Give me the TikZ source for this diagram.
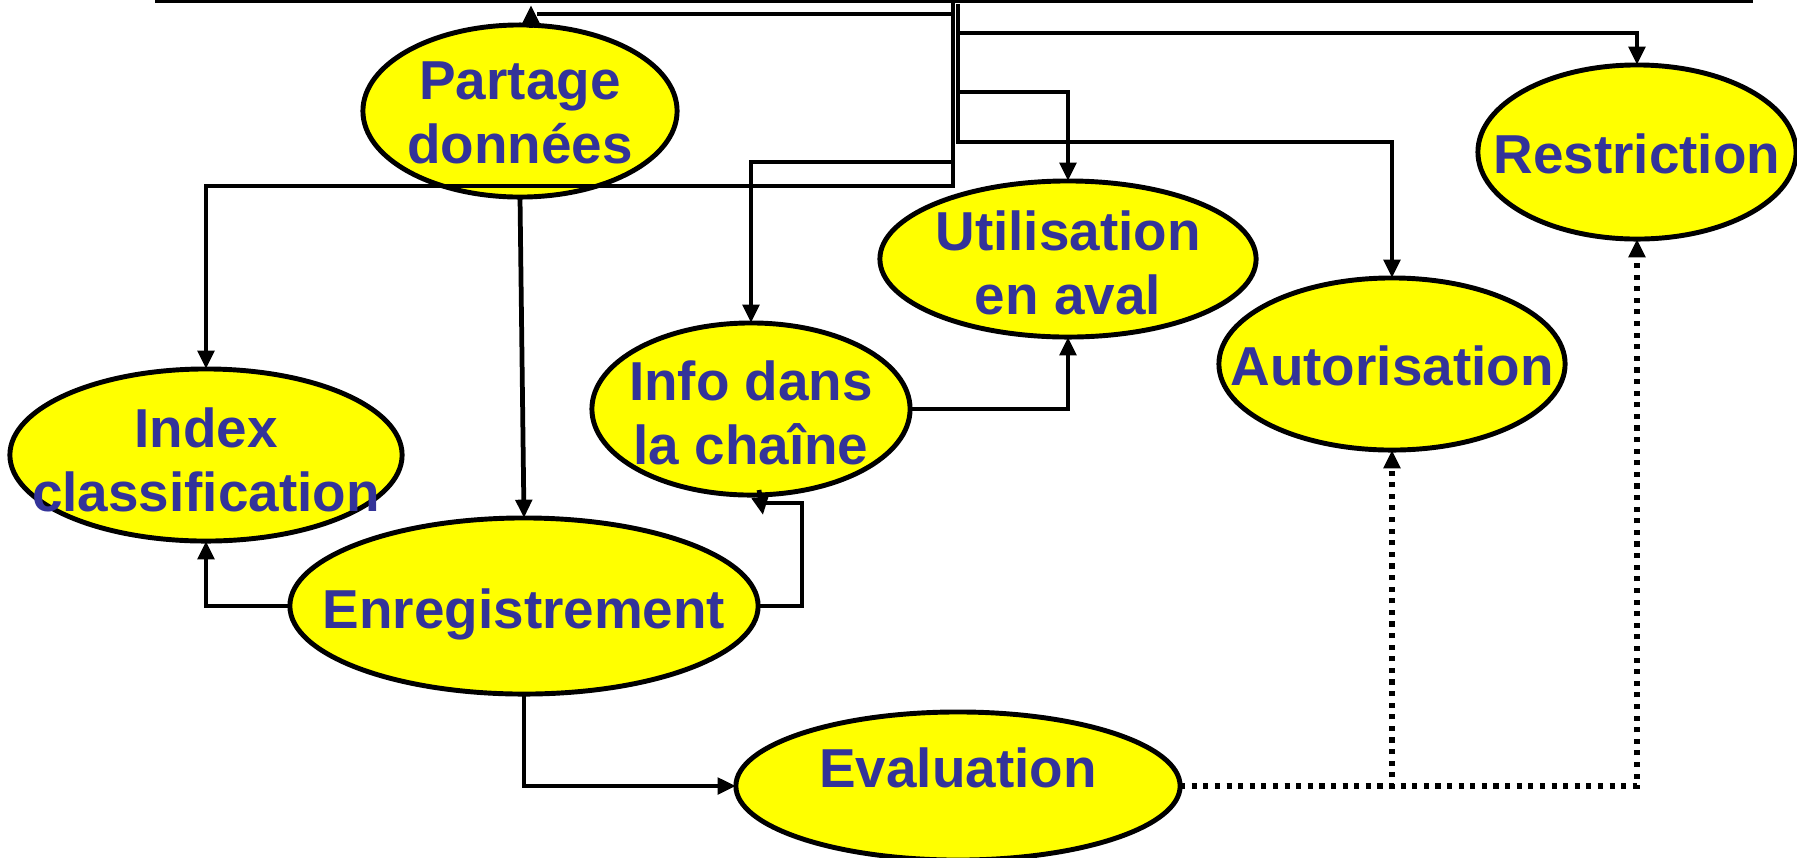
\documentclass[tikz,border=0pt]{standalone}
\usepackage{fontspec}
\setmainfont{Liberation Sans}
\usetikzlibrary{shapes.geometric, arrows.meta}
\definecolor{bubblefill}{HTML}{FFFF00}
\definecolor{labelblue}{HTML}{333399}
\begin{document}
\begin{tikzpicture}[x=0.01cm, y=-0.01cm,
  bubble/.style={ellipse, draw=black, line width=1.4pt, fill=bubblefill, inner sep=0pt, outer sep=0pt},
  caption/.style={text=labelblue, font=\bfseries\fontsize{15.6}{18}\selectfont, align=center, inner sep=0pt},
  link/.style={line width=1.35pt, draw=black},
  tip/.style={-{Triangle[length=5.2pt,width=4.6pt]}},
  dotlink/.style={line width=1.45pt, draw=black, dash pattern=on 1.45pt off 1.85pt},
]
\useasboundingbox (0,0) rectangle (1797,857);

% rule along the top edge
\coordinate (rule-l) at (155,1.6);
\coordinate (rule-r) at (1753,1.6);
\draw[line width=1pt] (rule-l) -- (rule-r);

% bubbles
\node[bubble, minimum width=3.14cm, minimum height=1.72cm] (pd) at (520,111) {};
\node[bubble, minimum width=3.18cm, minimum height=1.74cm] (rs) at (1637,152) {};
\node[bubble, minimum width=3.76cm, minimum height=1.56cm] (ut) at (1068,259) {};
\node[bubble, minimum width=3.46cm, minimum height=1.72cm] (au) at (1392,364) {};
\node[bubble, minimum width=3.18cm, minimum height=1.72cm] (ic) at (751,409) {};
\node[bubble, minimum width=3.92cm, minimum height=1.72cm] (ix) at (206,455) {};
\node[bubble, minimum width=4.68cm, minimum height=1.76cm] (en) at (524,606) {};
\node[bubble, minimum width=4.44cm, minimum height=1.48cm] (ev) at (958,786) {};

% captions
\node[caption] (pd-t) at (520,113) {Partage\\données};
\node[caption] (rs-t) at (1637,154) {Restriction};
\node[caption] (ut-t) at (1068,263) {Utilisation\\en aval};
\node[caption] (au-t) at (1392,366) {Autorisation};
\node[caption] (ic-t) at (751,413) {Info dans\\la chaîne};
\node[caption] (ix-t) at (206,460) {Index\\classification};
\node[caption] (en-t) at (524,614) {Enregistrement};
\node[caption] (ev-t) at (958,768) {Evaluation};

% distribution trunk hanging from the rule (two lanes)
\coordinate (trA) at (953,3);
\coordinate (trB) at (958,4);

\draw[link] (trA) |- (537,14);
\draw[link, tip] (531,28) -- (531,5);
\draw[link, tip] (trB) -- (958,33) -| (rs.north);
\draw[link, tip] (trB) -- (958,92) -| (ut.north);
\draw[link, tip] (trB) -- (958,142) -| (au.north);
\draw[link, tip] (trA) -- (953,162) -| (ic.north);
\draw[link, tip] (trA) -- (953,186) -| (ix.north);

% solid links between bubbles
\draw[link, tip] (pd.south) -- (en.north);
\draw[link, tip] (en.west) -| (ix.south);
\draw[link] (en.east) -| (802,503) -- (766,503);
\draw[link, tip] (759,490) -- (763,515);
\draw[link, tip] (ic.east) -| (ut.south);
\draw[link, tip] (en.south) |- (ev.west);

% dotted links from Evaluation
\draw[dotlink, tip] (ev.east) -| (rs.south);
\draw[dotlink, tip] (ev.east) -| (au.south);
\end{tikzpicture}
\end{document}
